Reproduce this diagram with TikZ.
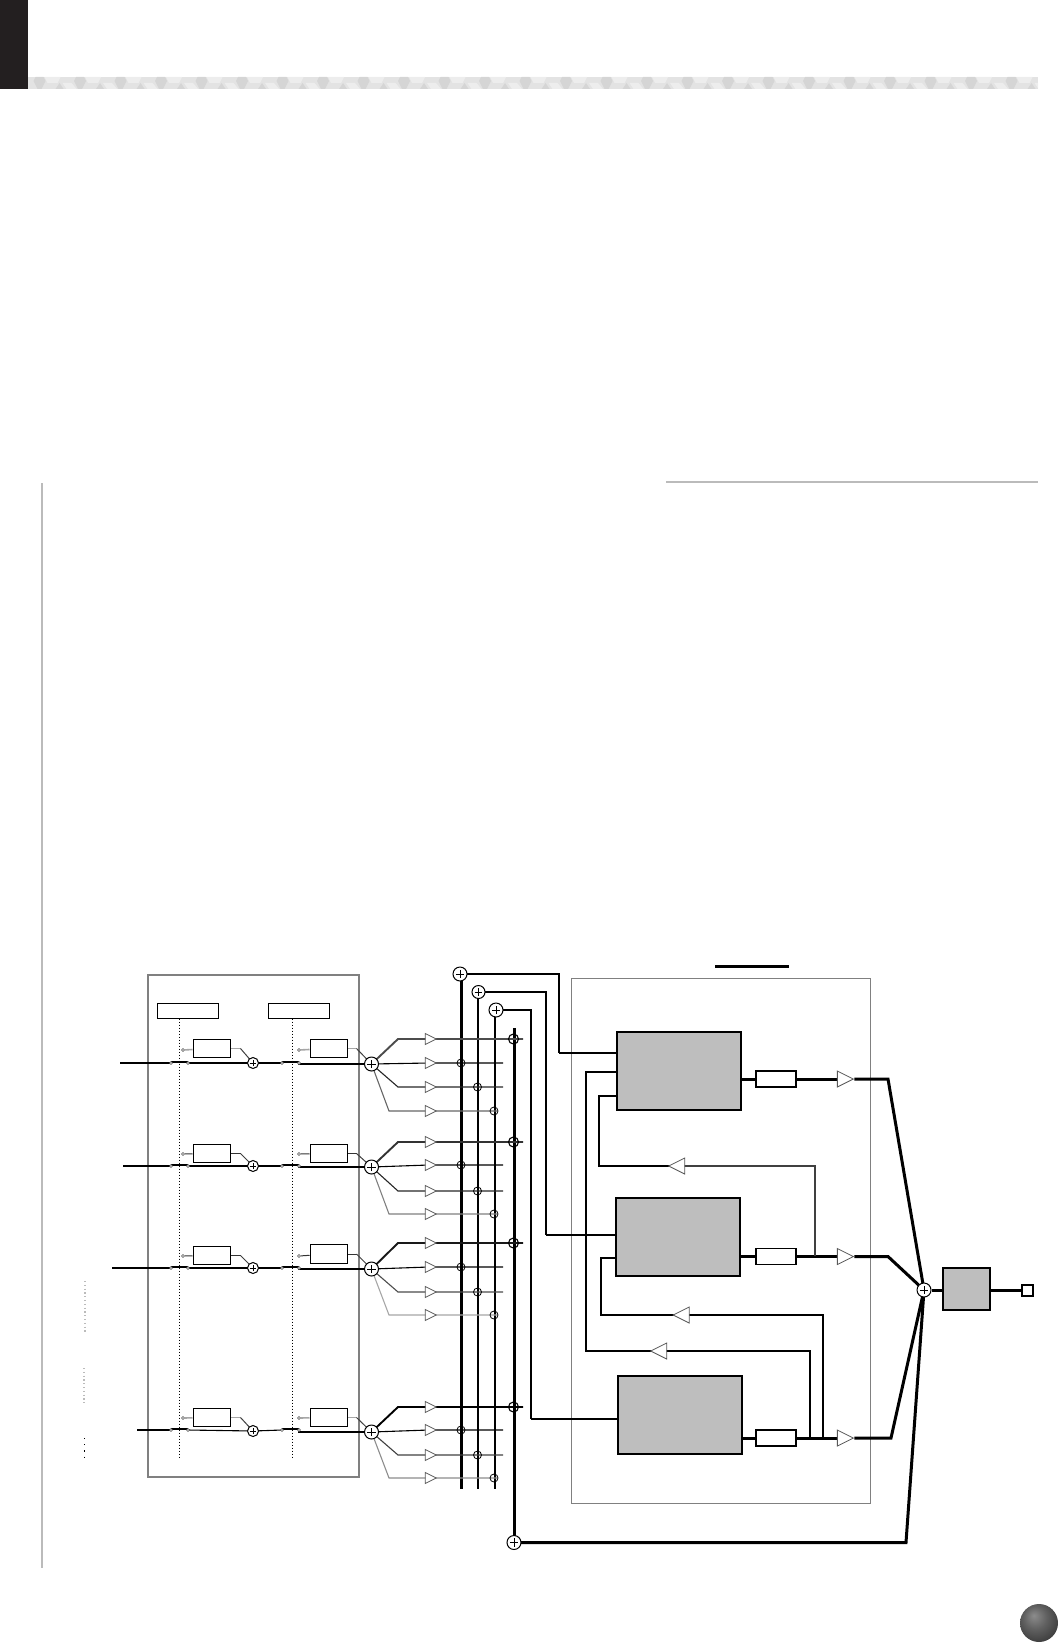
\documentclass[tikz,border=0pt]{standalone}
\usetikzlibrary{shapes.geometric,calc}
\pgfdeclarelayer{bg}
\pgfsetlayers{bg,main}
\definecolor{frameg}{HTML}{808080}
\definecolor{blockg}{HTML}{BEBEBE}
\definecolor{rulegr}{HTML}{BBBBBB}
\definecolor{bandb}{HTML}{E3E3E3}
\definecolor{bandl}{HTML}{EDEDED}
\definecolor{bandd}{HTML}{D5D5D5}
\definecolor{tabk}{HTML}{231F20}
\pgfdeclareradialshading{dimball}{\pgfpoint{-7bp}{10bp}}{color(0bp)=(black!45); color(15bp)=(black!62); color(35bp)=(black!80); color(55bp)=(black!92)}
\tikzset{
  x=1pt,y=-1pt,
  sumnode/.style={circle,draw=black,fill=white,line width=1,inner sep=0,minimum size=#1,
    path picture={\draw[line width=0.8] ([xshift=-#1*0.3]path picture bounding box.center)--([xshift=#1*0.3]path picture bounding box.center)
      ([yshift=-#1*0.3]path picture bounding box.center)--([yshift=#1*0.3]path picture bounding box.center);}},
  crossnode/.style={circle,draw=black,line width=0.8,inner sep=0,minimum size=#1},
  boldcross/.style={circle,draw=black,line width=1.1,inner sep=0,minimum size=#1},
  fxbox/.style={rectangle,draw=black,fill=white,line width=1,inner sep=0,minimum width=37,minimum height=18.5},
  busbox/.style={rectangle,draw=black,fill=white,line width=1,inner sep=0,minimum width=61,minimum height=15},
  eqbox/.style={rectangle,draw=black,fill=white,line width=1.8,inner sep=0,minimum width=40,minimum height=16},
  bigbox/.style={rectangle,draw=black,fill=blockg,line width=1.8,inner sep=0,minimum width=124,minimum height=78},
  contact/.style={circle,draw=black!70,fill=white,line width=0.6,inner sep=0,minimum size=3},
  smalltri/.style={isosceles triangle,isosceles triangle stretches,draw=black!65,fill=white,line width=0.8,inner sep=0,minimum width=11,minimum height=11},
  bigtri/.style={isosceles triangle,isosceles triangle stretches,draw=black!65,fill=white,line width=0.8,inner sep=0,minimum width=16,minimum height=16},
  frameline/.style={draw=frameg,line width=1.2},
  sig/.style={line width=#1,line join=miter},
  busd/.style={densely dashed,dash pattern=on 1.6pt off 1.4pt,line width=0.8},
  gdot/.style={line width=1.2,dash pattern=on 1.2pt off 2.6pt},
}
\begin{document}
\begin{tikzpicture}
\useasboundingbox (0,0) rectangle (1059,1643);
% page header
\fill[tabk] (0,0) rectangle (28,89);
\fill[bandb] (28,77) rectangle (1038,89);
\begin{scope}
\clip (28,77) rectangle (1038,89);
\foreach \i in {0,...,25}{
  \pgfmathsetmacro{\hx}{39.5+40.5*\i}
  \fill[bandl] (\hx+5,77) -- (\hx+21,77) -- (\hx+18,83) -- (\hx+8,83) -- cycle;
  \fill[bandl] (\hx+23,83) -- (\hx+32,83) -- (\hx+37,89) -- (\hx+27,89) -- cycle;
  \fill[bandd] (\hx+16,89) -- (\hx+20,83) -- (\hx+24,89) -- cycle;
  \fill[bandd] (\hx-4,77) -- (\hx+4,77) -- (\hx+6,81) -- (\hx+2,89) -- (\hx-2,89) -- (\hx-6,81) -- cycle;
}
\end{scope}
\draw[rulegr,line width=1.5] (666,482) -- (1038,482);
\draw[rulegr,line width=1.5] (42,483) -- (42,1568);
\shade[shading=dimball] (1039,1623) circle[radius=19];
% frames
\begin{pgfonlayer}{bg}
\draw[frameline] (148,975) rectangle (359,1477);
\draw[draw=frameg,line width=0.9] (571,978) rectangle (870.5,1503);
\end{pgfonlayer}
\draw[line width=2.6] (715,966.5) -- (789,966.5);
% left dotted marks
\draw[gdot,rulegr] (85,1281) -- (85,1332);
\draw[gdot,rulegr] (84,1368) -- (84,1404);
\draw[line width=1,dash pattern=on 1.2pt off 5pt] (84,1438) -- (84,1459);
% bus header boxes
\node[busbox] (busA) at (187.5,1010.5) {};
\node[busbox] (busB) at (298.5,1010.5) {};
\coordinate (busAend) at (179,1459);
\coordinate (busBend) at (292,1459);
\draw[busd] (busA.south -| busAend) -- (busAend);
\draw[busd] (busB.south -| busBend) -- (busBend);
% mix sums (top) and buses
\node[sumnode=14] (mixA) at (460,974) {};
\node[sumnode=13] (mixB) at (478.5,992) {};
\node[sumnode=14] (mixC) at (496,1010) {};
\node[sumnode=14] (mixD) at (514,1542.5) {};
\coordinate (mixAend) at (461.5,1489);
\coordinate (mixBend) at (478,1489);
\coordinate (mixCend) at (495,1489);
\coordinate (mixDtop) at (514,1028);
\begin{pgfonlayer}{bg}
\draw[sig=2.2] (mixA.center -| mixAend) -- (mixAend);
\draw[sig=1.2] (mixB.center -| mixBend) -- (mixBend);
\draw[sig=1.2] (mixC.center -| mixCend) -- (mixCend);
\draw[sig=3] (mixDtop) -- (mixD.center -| mixDtop);
\end{pgfonlayer}
% channel rows
\foreach \r/\y/\xs/\pw/\qw/\by/\cy/\oy/\sy/\sb/\ya/\yb/\yc/\yd/\cola/\colc/\cold/\tw/\tcol in {
  1/1063/120/2.3/2.3/1048.5/1050/1048.5/1064/1063/1039/1063/1087/1111/black!70/black!85/black!60/1.6/black!35,
  2/1166/123/1.7/2.3/1153.5/1154/1153.5/1167/1166/1142/1165/1191/1214/black!80/black!85/black!50/1/black!80,
  3/1268/112/2.3/2.3/1255.5/1256/1254/1269/1268/1243/1267/1292/1315/black!90/black!70/black!35/1/black!80,
  4/1430/137/2.3/1.1/1417.5/1418/1417.5/1432/1431/1407/1430/1455/1478/black/black!75/black!45/1.6/black!35%
}{
  \node[fxbox] (fxA\r) at (211.5,\by) {};
  \node[fxbox] (fxB\r) at (328.5,\oy) {};
  \node[sumnode=11] (sumA\r) at (253,\sb) {};
  \node[sumnode=14] (sumB\r) at (371.5,\sy) {};
  \node[contact] (swAa\r) at (171,\y) {};
  \node[contact] (swAb\r) at (188,\y) {};
  \node[contact] (swBa\r) at (282,\y) {};
  \node[contact] (swBb\r) at (299,\y) {};
  \node[contact] (tapA\r) at (183,\cy) {};
  \node[contact] (tapB\r) at (299,\cy) {};
  \coordinate (in\r) at (\xs,\y);
  \coordinate (ma\r) at (398,\ya);
  \coordinate (mc\r) at (398,\yc);
  \coordinate (md\r) at (389,\yd);
  \coordinate (ea\r) at (523,\ya);
  \coordinate (eb\r) at (503,\yb);
  \coordinate (ec\r) at (503,\yc);
  \coordinate (ed\r) at (497,\yd);
  \node[smalltri] (ta\r) at (428.7,\ya) {};
  \node[smalltri] (tb\r) at (428.7,\yb) {};
  \node[smalltri] (tc\r) at (428.7,\yc) {};
  \node[smalltri] (td\r) at (428.7,\yd) {};
  \node[boldcross=10] (xa\r) at (513.5,\ya) {};
  \node[crossnode=8] (xb\r) at (461,\yb) {};
  \node[crossnode=8] (xc\r) at (477.5,\yc) {};
  \node[crossnode=8] (xd\r) at (494,\yd) {};
  \begin{pgfonlayer}{bg}
    \draw[sig=\pw] (in\r) -- (swAa\r.center);
    \draw[sig=2] ([yshift=1pt]swAa\r.center) -- ([yshift=1pt]swAb\r.center);
    \draw[sig=\qw] (swAb\r.center) -- (sumA\r.center);
    \draw[sig=\qw] (sumA\r.center) -- (swBa\r.center);
    \draw[sig=2] ([yshift=1pt]swBa\r.center) -- ([yshift=1pt]swBb\r.center);
    \draw[sig=\qw] (swBb\r.center) -- (sumB\r.center -| swBb\r) -- (sumB\r.center);
    \draw[sig=\tw,\tcol] (tapA\r) -- (fxA\r);
    \draw[sig=\tw,\tcol] (tapB\r) -- (fxB\r);
    \draw[sig=1,\tcol] (fxA\r.east) -- ++(10,0);
    \draw[sig=1,black!75] ($(fxA\r.east)+(10,0)$) -- (sumA\r.center);
    \draw[sig=1,\tcol] (fxB\r.east) -- ++(9,0);
    \draw[sig=1,black!75] ($(fxB\r.east)+(9,0)$) -- (sumB\r.center);
    \draw[sig=1.9,\cola] (sumB\r.center) -- (ma\r) -- (ea\r);
    \draw[sig=1.1] (sumB\r.center) -- (tb\r.center) -- (eb\r);
    \draw[sig=1.1,\colc] (sumB\r.center) -- (mc\r) -- (ec\r);
    \draw[sig=1.1,\cold] (sumB\r.center) -- (md\r) -- (ed\r);
  \end{pgfonlayer}
}
% effect blocks
\node[bigbox] (fxU) at (679,1071) {};
\node[bigbox] (fxV) at (678,1237) {};
\node[bigbox] (fxW) at (680,1415) {};
\node[eqbox] (eqU) at (776,1079) {};
\node[eqbox] (eqV) at (776,1256.5) {};
\node[eqbox] (eqW) at (776,1438) {};
\node[bigtri] (outU) at (842.3,1079) {};
\node[bigtri] (outV) at (842.3,1256.5) {};
\node[bigtri] (outW) at (842.3,1438) {};
\node[bigtri,shape border rotate=180] (fbU) at (679.7,1166) {};
\node[bigtri,shape border rotate=180] (fbV) at (684.2,1315) {};
\node[bigtri,shape border rotate=180] (fbW) at (661.7,1351) {};
\node[sumnode=14] (master) at (924,1290) {};
\node[rectangle,draw=black,fill=blockg,line width=1.4,inner sep=0,minimum width=47,minimum height=42] (mbox) at (966.5,1289) {};
\node[rectangle,draw=black,fill=white,line width=1.4,inner sep=0,minimum width=11,minimum height=11] (term) at (1027.5,1290.5) {};
\begin{pgfonlayer}{bg}
% send returns into effects
\draw[sig=2.2] (mixA.center) -- (559,974) -- (559,1053);
\draw[sig=1.1] (559,1053) -- (fxU.west |- 0,1053);
\draw[sig=2.2] (mixB.center) -- (546,992) -- (546,1235);
\draw[sig=1.1] (546,1235) -- (fxV.west |- 0,1235);
\draw[sig=2] (mixC.center) -- (531,1010) -- (531,1419);
\draw[sig=1.2] (531,1419) -- (fxW.west |- 0,1419);
% effect outputs
\draw[sig=3] (fxU.east |- eqU) -- (eqU) -- (outU);
\draw[sig=3] (fxV.east |- eqV) -- (eqV) -- (outV);
\draw[sig=3] (fxW.east |- eqW) -- (eqW) -- (outW);
% to master
\draw[sig=3] (outU) -- (888,1079) -- (master.center);
\draw[sig=3] (outV) -- (888,1256.5) -- (master.center);
\draw[sig=3] (outW) -- (891,1438) -- (master.center);
\draw[sig=3] (mixD.center) -- (906,1542.5) -- (master.center);
\draw[sig=3] (master) -- (master -| mbox.west);
\draw[sig=3] (mbox.east |- term) -- (term);
% feedback
\draw[sig=1.3,black!75] (815,1256) -- (815,1166) -- (fbU.center);
\draw[sig=1.3] (fbU.center) -- (599,1166) -- (599,1096) -- (fxU.west |- 0,1096);
\draw[sig=1.8] (823,1438) -- (823,1315) -- (fbV.center) -- (601,1315) -- (601,1258) -- (fxV.west |- 0,1258);
\draw[sig=2] (810,1438) -- (810,1351) -- (fbW.center) -- (586,1351) -- (586,1072) -- (fxU.west |- 0,1072);
\end{pgfonlayer}
\end{tikzpicture}
\end{document}
